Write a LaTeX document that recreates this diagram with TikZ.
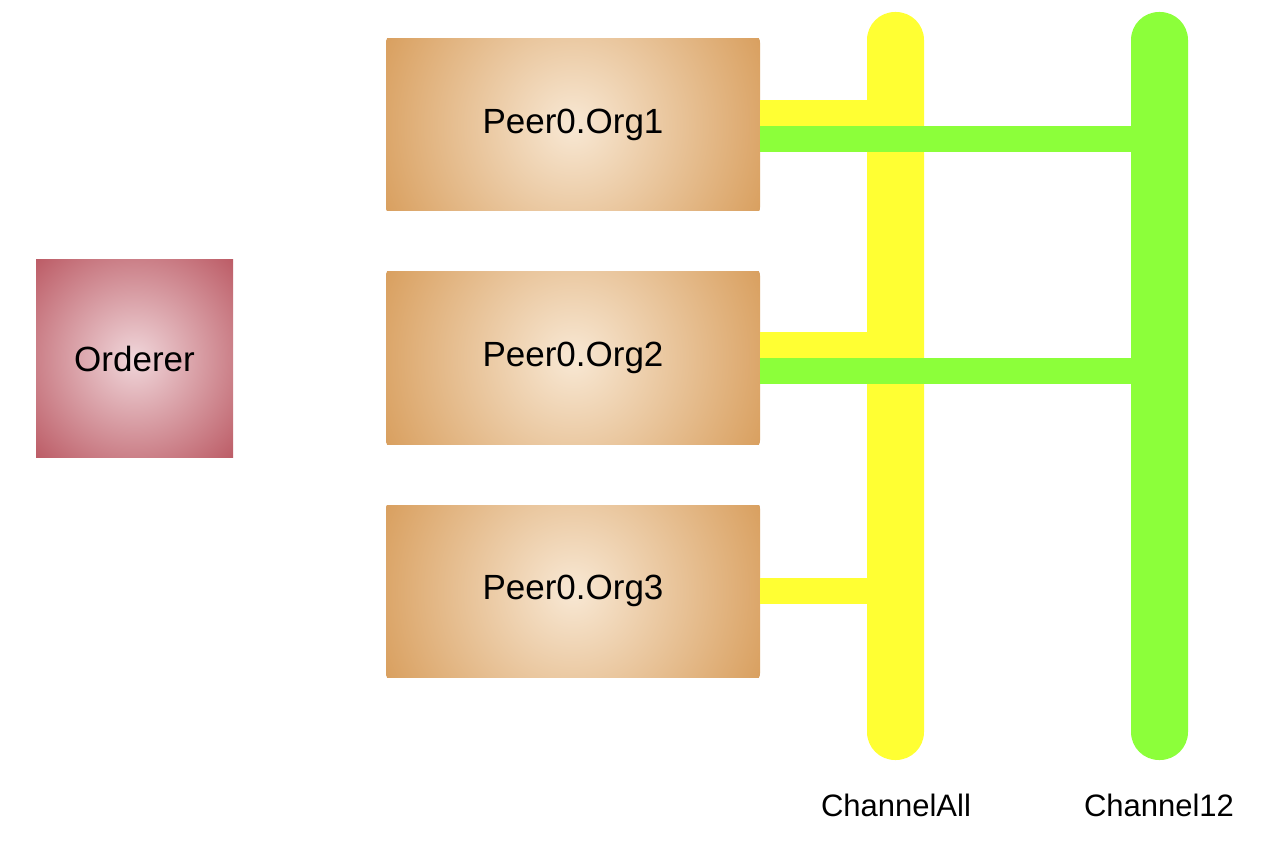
\documentclass[tikz,border=0pt]{standalone}
\usepackage{fontspec}
\usetikzlibrary{calc}
\setmainfont{Liberation Sans}
\definecolor{ylw}{HTML}{FFFF33}
\definecolor{grn}{HTML}{8CFF3A}
\definecolor{peerout}{HTML}{D9A060}
\definecolor{peerin}{HTML}{F8E8D4}
\definecolor{ordout}{HTML}{BC5C66}
\definecolor{ordin}{HTML}{F0D6DA}
\begin{document}
\begin{tikzpicture}[x=1pt,y=-1pt,
  peer/.style={minimum width=374pt,minimum height=172pt,font=\fontsize{35}{40}\selectfont},
  ord/.style={minimum width=197pt,minimum height=197pt,font=\fontsize{35}{40}\selectfont},
  lbl/.style={font=\fontsize{31}{36}\selectfont}]
\useasboundingbox (0,0) rectangle (1262,842);
\fill[white] (0,0) rectangle (1262,842);
\newcommand\softbox[5]{\begin{scope}\clip (#1) rectangle (#2);
  \shade[inner color=#3,outer color=#4] ($(#1)!0.5!(#2)$) circle (#5);\end{scope}}
\softbox{36,260}{233,457}{ordin}{ordout}{140pt}
\softbox{386,39}{760,211}{peerin}{peerout}{205pt}
\softbox{386,272}{760,444}{peerin}{peerout}{205pt}
\softbox{386,505}{760,677}{peerin}{peerout}{205pt}
\node[ord] (ord) at (134.5,358.5) {Orderer};
\node[peer] (p1) at (573,125) {Peer0.Org1};
\node[peer] (p2) at (573,358) {Peer0.Org2};
\node[peer] (p3) at (573,591) {Peer0.Org3};
\fill[ylw] (p1.east|-0,100) rectangle (868,127);
\fill[ylw] (p2.east|-0,332) rectangle (868,358);
\fill[ylw] (p3.east|-0,578) rectangle (868,604);
\node[fill=ylw,rounded corners=28pt,minimum width=57pt,minimum height=748pt,inner sep=0] (chA) at (895.5,386) {};
\node[fill=grn,rounded corners=28pt,minimum width=57pt,minimum height=748pt,inner sep=0] (ch12) at (1159.5,386) {};
\fill[grn] (p1.east|-0,126) rectangle (1132,152);
\fill[grn] (p2.east|-0,358) rectangle (1132,384);
\node[lbl] (lA) at (896,805) {ChannelAll};
\node[lbl] (l12) at (1159,805) {Channel12};
\end{tikzpicture}
\end{document}
